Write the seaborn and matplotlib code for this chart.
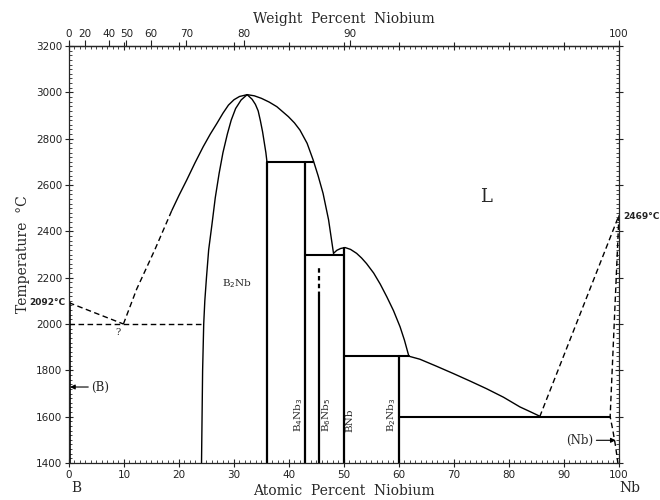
import numpy as np
import matplotlib.pyplot as plt
import seaborn as sns
from matplotlib.ticker import MultipleLocator, FixedLocator

# B-Nb phase diagram, x = atomic percent Nb, y = temperature (C)
b_melt = 2092
nb_melt = 2469

# liquidus, B side
liq_b_dash_x = [0, 9.9]
liq_b_dash_y = [2092, 2000]
liq_up_dash_x = [9.9, 12.3, 15.6, 18.7]
liq_up_dash_y = [2000, 2150, 2320, 2490]
# big dome over B2Nb
dome_x = [18.7, 20.0, 21.4, 22.9, 24.4, 25.7, 26.9, 28.0, 29.0, 30.0, 31.0, 32.4,
          33.7, 35.0, 36.4, 37.8, 39.9, 41.0, 42.0, 43.3, 44.4, 45.3, 46.2, 47.2, 48.1]
dome_y = [2490, 2555, 2621, 2695, 2765, 2820, 2866, 2910, 2945, 2968, 2982, 2990,
          2985, 2974, 2958, 2938, 2895, 2868, 2837, 2780, 2708, 2640, 2564, 2450, 2305]
# B2Nb homogeneity range
b2nb_left_x = [24.1, 24.3, 24.5, 24.7, 25.0, 25.4, 26.0, 26.6, 27.3, 28.0, 28.8,
               29.5, 30.3, 31.3, 32.4]
b2nb_left_y = [1400, 1800, 2000, 2100, 2200, 2320, 2430, 2545, 2650, 2740, 2820,
               2880, 2930, 2967, 2990]
b2nb_right_x = [32.4, 33.3, 33.9, 34.4, 34.8, 35.2, 35.5, 35.8, 36.0]
b2nb_right_y = [2990, 2970, 2948, 2920, 2878, 2830, 2785, 2740, 2700]
b2nb_edge = (36.0, 1400, 2700)
# BNb liquidus down to the Nb-rich eutectic
bnb_liq_x = [48.1, 48.7, 49.4, 50.2, 51.2, 52.3, 53.2, 54.1, 55.4, 56.6, 57.8,
             59.0, 60.2, 61.0, 61.8]
bnb_liq_y = [2305, 2318, 2326, 2330, 2322, 2305, 2285, 2261, 2220, 2172, 2117,
             2058, 1988, 1930, 1861]
nb_liq_x = [61.8, 63.8, 66.8, 69.9, 72.9, 75.9, 79.0, 82.0, 84.0, 85.6]
nb_liq_y = [1861, 1848, 1818, 1786, 1754, 1721, 1684, 1642, 1620, 1602]
# Nb side
liq_nb_x = [85.6, 100]
liq_nb_y = [1600, nb_melt]
sol_nb_x = [100, 98.4, 98.9, 99.4, 99.8]
sol_nb_y = [nb_melt, 1600, 1540, 1470, 1400]

# compounds (composition, bottom, top)
b4nb3 = (42.9, 1400, 2700)
b6nb5 = (45.5, 1400, 2120)
b6nb5_dash = (45.5, 2120, 2250)
bnb = (50.0, 1400, 2330)
b2nb3 = (60.0, 1400, 1860)

# invariant lines (x from, x to, temperature)
eut_b = (0, 24.5, 2000)
peri_2700 = (36.0, 44.4, 2700)
peri_2300 = (42.9, 50.0, 2300)
eut_1860 = (50.0, 61.8, 1860)
eut_1600 = (60.0, 98.4, 1600)

phase_labels = ['B$_2$Nb', 'B$_4$Nb$_3$', 'B$_6$Nb$_5$', 'BNb', 'B$_2$Nb$_3$']
wt_ticks = [0, 20, 40, 50, 60, 70, 80, 90, 100]

M_B, M_NB = 10.81, 92.906


def at2wt(a):
    a = np.asarray(a, dtype=float)
    return 100 * a * M_NB / (a * M_NB + (100 - a) * M_B)


def wt2at(w):
    w = np.asarray(w, dtype=float)
    return 100 * (w / M_NB) / (w / M_NB + (100 - w) / M_B)


sns.set_style("ticks")
plt.rcParams['font.family'] = ['DejaVu Sans']

fig = plt.figure(figsize=(6.6, 5.0), dpi=100)
ax = fig.add_axes([0.1045, 0.074, 0.8333, 0.834])

k = dict(color='black', estimator=None, sort=False, legend=False, ax=ax)
solid = dict(lw=1.0, **k)
thick = dict(lw=1.6, **k)
dash = dict(lw=1.0, linestyle=(0, (4, 2.5)), **k)

sns.lineplot(x=liq_b_dash_x, y=liq_b_dash_y, **dash)
sns.lineplot(x=liq_up_dash_x, y=liq_up_dash_y, **dash)
sns.lineplot(x=dome_x, y=dome_y, **solid)
sns.lineplot(x=b2nb_left_x, y=b2nb_left_y, **solid)
sns.lineplot(x=b2nb_right_x, y=b2nb_right_y, **solid)
sns.lineplot(x=bnb_liq_x, y=bnb_liq_y, **solid)
sns.lineplot(x=nb_liq_x, y=nb_liq_y, **solid)
sns.lineplot(x=liq_nb_x, y=liq_nb_y, **dash)
sns.lineplot(x=sol_nb_x, y=sol_nb_y, **dash)

for xc, y0, y1 in [b2nb_edge, b4nb3, b6nb5, bnb, b2nb3]:
    sns.lineplot(x=[xc, xc], y=[y0, y1], **thick)
sns.lineplot(x=[b6nb5_dash[0]] * 2, y=list(b6nb5_dash[1:]), color='black', lw=1.6,
             linestyle=(0, (2, 1.5)), estimator=None, sort=False, legend=False, ax=ax)

sns.lineplot(x=list(eut_b[:2]), y=[eut_b[2]] * 2, **dash)
for x0, x1, t in [peri_2700, peri_2300, eut_1860, eut_1600]:
    sns.lineplot(x=[x0, x1], y=[t, t], color='black', lw=1.5,
                 estimator=None, sort=False, legend=False, ax=ax)

# (B) terminal solid solution on the axis
sns.lineplot(x=[0, 0], y=[1400, b_melt], color='black', lw=2.6,
             estimator=None, sort=False, legend=False, ax=ax)

ax.set_xlim(0, 100)
ax.set_ylim(1400, 3200)
ax.xaxis.set_major_locator(MultipleLocator(10))
ax.xaxis.set_minor_locator(MultipleLocator(1))
ax.yaxis.set_major_locator(MultipleLocator(200))
ax.yaxis.set_minor_locator(MultipleLocator(20))
ax.tick_params(which='major', direction='inout', length=6, width=0.8,
               top=True, right=True, labelsize=7.5, pad=2, colors='#222222')
ax.tick_params(which='minor', direction='in', length=2.5, width=0.6,
               top=True, right=True)
for s in ax.spines.values():
    s.set_linewidth(0.9)

sec = ax.secondary_xaxis('top', functions=(at2wt, wt2at))
sec.xaxis.set_major_locator(FixedLocator(wt_ticks))
sec.xaxis.set_minor_locator(FixedLocator([]))
sec.tick_params(direction='out', length=4, width=0.8, labelsize=7.5, pad=1,
                colors='#222222')
sec.spines['top'].set_linewidth(0.9)

serif = 'DejaVu Serif'
sec.set_xlabel('Weight  Percent  Niobium', family=serif, fontsize=10, labelpad=4)
ax.set_xlabel('Atomic  Percent  Niobium', family=serif, fontsize=10, labelpad=3)
ax.set_ylabel('Temperature  °C', family=serif, fontsize=10, labelpad=4)
fig.text(0.115, 0.017, 'B', family=serif, fontsize=10, ha='center')
fig.text(0.955, 0.017, 'Nb', family=serif, fontsize=10, ha='center')

ax.text(-0.6, b_melt, f'{b_melt}°C', fontsize=6.5, ha='right', va='center',
        fontweight='bold', color='#222222')
ax.text(100.8, nb_melt - 5, f'{nb_melt}°C', fontsize=6.5, ha='left', va='center',
        fontweight='bold', color='#222222', clip_on=False)
ax.text(9.0, 1965, '?', fontsize=7, ha='center', va='center', family=serif)
ax.text(75.9, 2549, 'L', fontsize=13, ha='center', va='center', family=serif)
ax.text(30.5, 2175, phase_labels[0], fontsize=7.5, ha='center', va='center', family=serif)
for lab, xc in zip(phase_labels[1:], [41.7, 46.85, 51.1, 58.7]):
    ax.text(xc, 1535, lab, fontsize=7.5, rotation=90, ha='center', va='bottom',
            family=serif)

ax.annotate('(B)', xy=(0.2, 1728), xytext=(4.1, 1728), fontsize=8.5, family=serif,
            ha='left', va='center',
            arrowprops=dict(arrowstyle='-|>', color='black', lw=0.8,
                            mutation_scale=7, shrinkA=0, shrinkB=0))
ax.annotate('(Nb)', xy=(99.4, 1498), xytext=(95.3, 1498), fontsize=8.5, family=serif,
            ha='right', va='center',
            arrowprops=dict(arrowstyle='-|>', color='black', lw=0.8,
                            mutation_scale=7, shrinkA=0, shrinkB=0))

fig.savefig('out.png', dpi=100)
